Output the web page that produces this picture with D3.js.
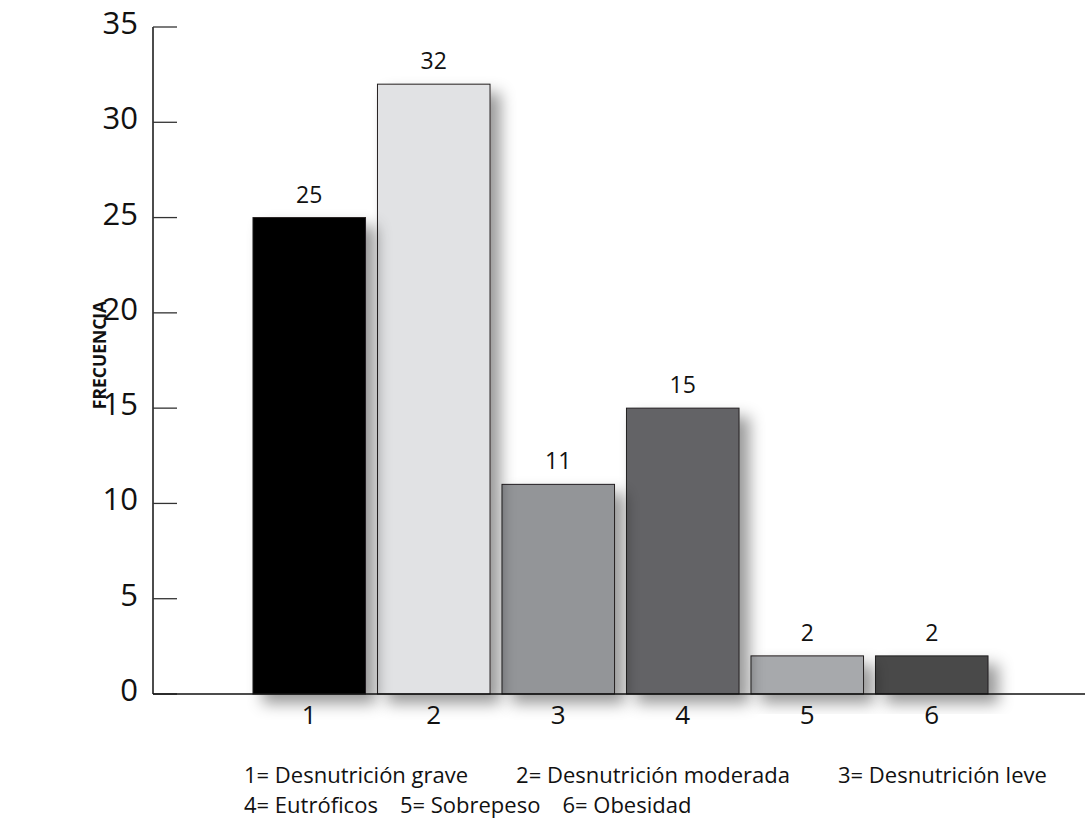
<!DOCTYPE html>
<html>
<head>
<meta charset="utf-8">
<script src="https://cdn.jsdelivr.net/npm/d3@7"></script>
<style>
  html, body { margin: 0; padding: 0; background: #fff; }
  svg { display: block; font-family: "Open Sans", "Noto Sans", sans-serif; }
</style>
</head>
<body>
<svg id="chart" width="1085" height="819"></svg>
<script>
// Nutritional status categories and their frequencies
const categories = ["1", "2", "3", "4", "5", "6"];
const frequencies = [25, 32, 11, 15, 2, 2];
const barColors = ["#000000", "#e1e2e4", "#939598", "#636466", "#a7a9ac", "#48484a"];
const yTicks = [0, 5, 10, 15, 20, 25, 30, 35];
const yLabel = "FRECUENCIA";
const legendLines = [
  ["1= Desnutrición grave", "2= Desnutrición moderada", "3= Desnutrición leve"],
  ["4= Eutróficos", "5= Sobrepeso", "6= Obesidad"]
];

const svg = d3.select("#chart");

const axisX = 153, axisBottom = 694, axisTop = 27, axisRight = 1085;

const x = d3.scaleBand()
  .domain(categories)
  .range([247, 994])
  .paddingInner(0.096)
  .paddingOuter(0.048);

const y = d3.scaleLinear()
  .domain([0, 35])
  .range([axisBottom, axisTop]);

// soft drop shadow for the bars
const defs = svg.append("defs");
const f = defs.append("filter").attr("id", "shadow")
  .attr("x", "-30%").attr("y", "-30%").attr("width", "180%").attr("height", "180%");
f.append("feDropShadow")
  .attr("dx", 10).attr("dy", 9)
  .attr("stdDeviation", 7.5)
  .attr("flood-color", "#000")
  .attr("flood-opacity", 0.4);

const data = categories.map((c, i) => ({ c, v: frequencies[i], color: barColors[i] }));

// bars drawn right to left so each shadow falls over the neighbour
svg.append("g").selectAll("rect")
  .data(data.slice().reverse())
  .join("rect")
  .attr("x", d => x(d.c))
  .attr("y", d => y(d.v))
  .attr("width", x.bandwidth())
  .attr("height", d => y(0) - y(d.v))
  .attr("fill", d => d.color)
  .attr("stroke", "#231f20")
  .attr("stroke-width", 1)
  .attr("filter", "url(#shadow)");

// value labels
svg.append("g").selectAll("text")
  .data(data)
  .join("text")
  .attr("x", d => x(d.c) + x.bandwidth() / 2)
  .attr("y", d => y(d.v) - 15)
  .attr("text-anchor", "middle")
  .attr("font-size", 23)
  .attr("fill", "#111")
  .text(d => d.v);

// y axis: line, inward ticks, labels
const yAxis = svg.append("g");
yAxis.append("line")
  .attr("x1", axisX).attr("x2", axisX)
  .attr("y1", y(35)).attr("y2", y(0))
  .attr("stroke", "#111").attr("stroke-width", 1.5);
yAxis.selectAll("line.tick")
  .data(yTicks)
  .join("line")
  .attr("class", "tick")
  .attr("x1", axisX).attr("x2", axisX + 24)
  .attr("y1", d => y(d)).attr("y2", d => y(d))
  .attr("stroke", "#333").attr("stroke-width", 1.3);
yAxis.selectAll("text")
  .data(yTicks)
  .join("text")
  .attr("x", axisX - 15)
  .attr("y", d => y(d) + 7)
  .attr("text-anchor", "end")
  .attr("font-size", 31)
  .attr("fill", "#111")
  .text(d => d);

// x axis line and category labels
svg.append("line")
  .attr("x1", axisX).attr("x2", axisRight)
  .attr("y1", y(0)).attr("y2", y(0))
  .attr("stroke", "#111").attr("stroke-width", 1.5);
svg.append("g").selectAll("text")
  .data(categories)
  .join("text")
  .attr("x", d => x(d) + x.bandwidth() / 2)
  .attr("y", 724)
  .attr("text-anchor", "middle")
  .attr("font-size", 26)
  .attr("fill", "#111")
  .text(d => d);

// y axis title
svg.append("text")
  .attr("transform", "translate(106,355) rotate(-90)")
  .attr("text-anchor", "middle")
  .attr("font-size", 17.5)
  .attr("font-weight", "bold")
  .attr("fill", "#111")
  .text(yLabel);

// category key below the chart, items laid out one after another
const legendLeft = 244;
const legendGap = [48, 22];
const legendY = [783, 813];
legendLines.forEach((line, r) => {
  let cx = legendLeft;
  const g = svg.append("g");
  line.forEach(label => {
    const t = g.append("text")
      .attr("x", cx)
      .attr("y", legendY[r])
      .attr("font-size", 22)
      .attr("fill", "#111")
      .text(label);
    cx += t.node().getComputedTextLength() + legendGap[r];
  });
});
</script>
</body>
</html>
